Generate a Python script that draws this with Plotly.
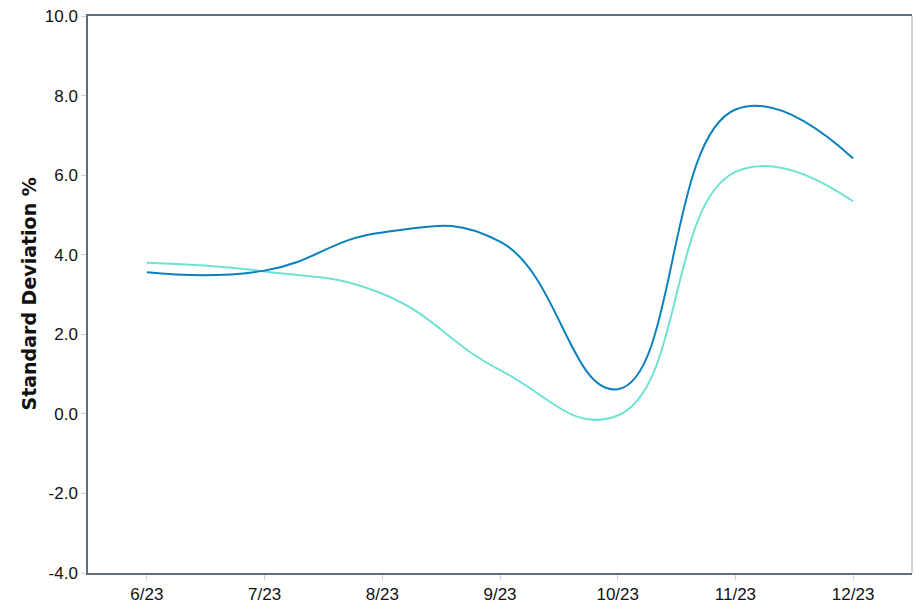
import plotly.graph_objects as go

months = ["6/23", "7/23", "8/23", "9/23", "10/23", "11/23", "12/23"]
series_dark = [3.56, 3.60, 4.56, 4.33, 0.62, 7.65, 6.42]
series_light = [3.80, 3.58, 3.02, 1.10, -0.04, 6.08, 5.34]
y_ticks = [-4, -2, 0, 2, 4, 6, 8, 10]
y_tick_labels = ["-4.0", "-2.0", "0.0", "2.0", "4.0", "6.0", "8.0", "10.0"]

DARK = "#0a80bd"
LIGHT = "#6fe2d6"
FRAME = "#5a6f82"
TICK_FONT = dict(family="Liberation Sans Narrow, Arial Narrow, Liberation Sans, Arial", size=17, color="#111111")

fig = go.Figure()
fig.add_trace(go.Scatter(x=months, y=series_light, mode="lines",
                         line=dict(color=LIGHT, width=2, shape="spline", smoothing=1.3),
                         showlegend=False, hoverinfo="skip"))
fig.add_trace(go.Scatter(x=months, y=series_dark, mode="lines",
                         line=dict(color=DARK, width=2, shape="spline", smoothing=1.3),
                         showlegend=False, hoverinfo="skip"))

fig.update_layout(
    width=914, height=610,
    margin=dict(l=88, r=2, t=16, b=37, autoexpand=False),
    paper_bgcolor="white", plot_bgcolor="white",
    xaxis=dict(type="category", range=[-0.5, 6.5], showgrid=False, zeroline=False,
               automargin=False,
               showline=True, linecolor=FRAME, linewidth=1.5, mirror=True,
               ticks="outside", ticklen=5, tickcolor="#d0d0d0", tickwidth=1,
               tickfont=TICK_FONT),
    yaxis=dict(range=[-4, 10], tickvals=y_ticks, ticktext=y_tick_labels,
               automargin=False,
               showgrid=False, zeroline=False,
               showline=True, linecolor=FRAME, linewidth=1.5,
               ticks="outside", ticklen=5, tickcolor="#d0d0d0", tickwidth=1,
               tickfont=TICK_FONT),
    annotations=[dict(text="<b>Standard Deviation %</b>", xref="paper", yref="paper",
                      x=(28 - 88) / 824, y=0.5, xanchor="center", yanchor="middle",
                      textangle=-90, showarrow=False,
                      font=dict(family="DejaVu Sans, Arial", size=19, color="#111111"))],
    shapes=[dict(type="line", xref="paper", yref="paper", x0=1, x1=1, y0=0, y1=1,
                 line=dict(color="#c8c8c8", width=1.5))],
)

fig.write_html("out.html", config={"displayModeBar": False},
               post_script="document.body.style.margin='0';document.body.style.overflow='hidden';")
